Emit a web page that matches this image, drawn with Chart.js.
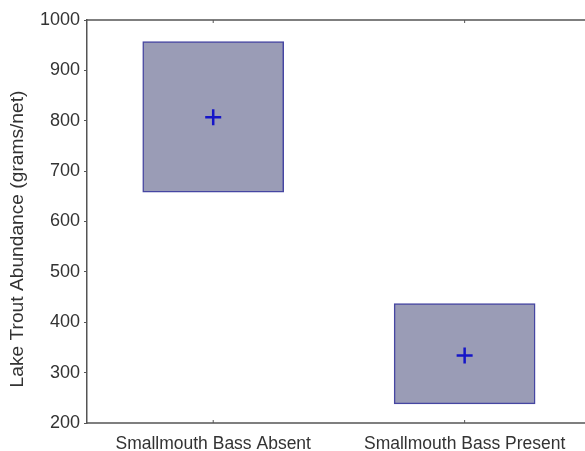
<!DOCTYPE html>
<html lang="en">
<head>
<meta charset="UTF-8">
<title>Lake Trout Abundance</title>
<script src="https://cdn.jsdelivr.net/npm/chart.js@4"></script>
<style>
body { margin: 0; background: #fff; }
#wrap { width: 585px; height: 451px; }
</style>
</head>
<body>
<div id="wrap"><canvas id="chart" width="585" height="451"></canvas></div>
<script>
// group labels and box values
const groups = ['Smallmouth Bass Absent', 'Smallmouth Bass Present']
const boxLow = [658, 238]
const boxHigh = [957, 437]
const means = [807, 334]
const yTitle = 'Lake Trout Abundance (grams/net)'

const axisColor = '#555'
const font = 'Liberation Sans, Arial, sans-serif'

// frame lines run off the right edge like the original crop; small inward x ticks; y title
const frame = {
  id: 'frame',
  afterDraw(chart) {
    const { ctx, chartArea, width } = chart
    const x = chart.scales.x
    ctx.save()
    ctx.strokeStyle = axisColor
    ctx.lineWidth = 1.5
    ctx.beginPath()
    ctx.moveTo(chartArea.left, chartArea.top)
    ctx.lineTo(width, chartArea.top)
    ctx.moveTo(chartArea.left, chartArea.bottom)
    ctx.lineTo(width, chartArea.bottom)
    ctx.stroke()
    ctx.lineWidth = 1
    groups.forEach((g, i) => {
      const px = x.getPixelForValue(i + 1)
      ctx.beginPath()
      ctx.moveTo(px, chartArea.bottom)
      ctx.lineTo(px, chartArea.bottom - 3)
      ctx.moveTo(px, chartArea.top)
      ctx.lineTo(px, chartArea.top + 3)
      ctx.stroke()
    })
    ctx.translate(18, 239)
    ctx.rotate(-Math.PI / 2)
    ctx.fillStyle = '#333'
    ctx.font = '19.2px ' + font
    ctx.textAlign = 'center'
    ctx.textBaseline = 'middle'
    ctx.fillText(yTitle, 0, 0)
    ctx.restore()
  }
}

new Chart(document.getElementById('chart'), {
  type: 'bar',
  data: {
    datasets: [
      {
        type: 'scatter',
        data: means.map((m, i) => ({ x: i + 1, y: m })),
        pointStyle: 'cross',
        pointRadius: 8,
        borderWidth: 2.5,
        borderColor: '#1515c8',
        clip: false,
        order: 0
      },
      {
        data: groups.map((g, i) => ({ x: i + 1, y: [boxLow[i], boxHigh[i]] })),
        backgroundColor: '#9a9cb6',
        borderColor: '#4646a2',
        borderWidth: 1.5,
        borderSkipped: false,
        barThickness: 141,
        order: 1
      }
    ]
  },
  options: {
    responsive: false,
    animation: false,
    layout: { padding: { top: 20, right: 0, left: 0, bottom: 0 } },
    plugins: { legend: { display: false }, tooltip: { enabled: false } },
    scales: {
      x: {
        type: 'linear',
        offset: false,
        min: 0.498,
        max: 2.437,
        afterBuildTicks: s => { s.ticks = groups.map((g, i) => ({ value: i + 1 })) },
        afterFit: s => { s.height = 28 },
        ticks: {
          callback: v => groups[v - 1],
          color: '#333',
          font: { family: font, size: 17.5 },
          padding: 3,
          maxRotation: 0
        },
        grid: { display: false },
        border: { display: false }
      },
      y: {
        min: 200,
        max: 1000,
        afterFit: s => { s.width = 87 },
        ticks: {
          stepSize: 100,
          callback: v => String(v),
          color: '#333',
          font: { family: font, size: 18 },
          padding: 4
        },
        grid: { drawOnChartArea: false, tickLength: 3, color: axisColor },
        border: { color: axisColor, width: 1.5 }
      }
    }
  },
  plugins: [frame]
})
</script>
</body>
</html>
